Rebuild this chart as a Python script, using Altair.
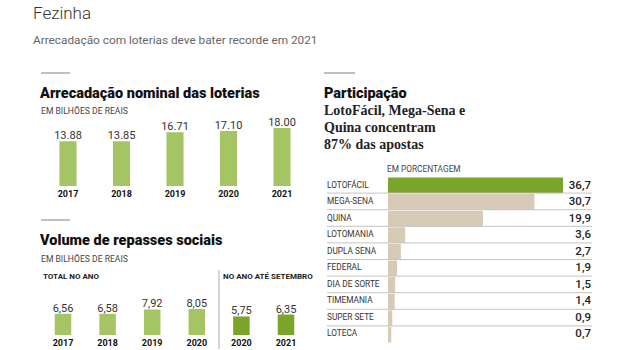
import altair as alt
import pandas as pd

# ---------------- data ----------------
arrec_anos = ["2017", "2018", "2019", "2020", "2021"]
arrec_valores = [13.88, 13.85, 16.71, 17.10, 18.00]

rep_anos = ["2017", "2018", "2019", "2020", "2020", "2021"]
rep_grupos = ["total", "total", "total", "total", "setembro", "setembro"]
rep_valores = [6.56, 6.58, 7.92, 8.05, 5.75, 6.35]

part_loterias = ["LOTOFÁCIL", "MEGA-SENA", "QUINA", "LOTOMANIA", "DUPLA SENA",
                 "FEDERAL", "DIA DE SORTE", "TIMEMANIA", "SUPER SETE", "LOTECA"]
part_valores = [36.7, 30.7, 19.9, 3.6, 2.7, 1.9, 1.5, 1.4, 0.9, 0.7]

# ---------------- styles ----------------
GREEN_LIGHT = "#a5c463"
GREEN_DARK = "#7ba52a"
BEIGE = "#d7cab6"
FONT = "Roboto"

arrec = pd.DataFrame({"ano": arrec_anos, "valor": arrec_valores})
arrec["rotulo"] = [f"{v:.2f}" for v in arrec_valores]

rep = pd.DataFrame({"ano": rep_anos, "grupo": rep_grupos, "valor": rep_valores})
rep["chave"] = rep["grupo"] + "-" + rep["ano"]
rep["rotulo"] = [f"{v:.2f}".replace(".", ",") for v in rep_valores]
rep_ordem = list(rep["chave"])

part = pd.DataFrame({"loteria": part_loterias, "valor": part_valores})
part["rotulo"] = [f"{v:.1f}".replace(".", ",") for v in part_valores]

one = pd.DataFrame({"k": [0]})


def txt(text, x, y, size, weight="normal", color="#222", font=FONT, align="left"):
    return alt.Chart(one).mark_text(
        text=text, align=align, baseline="alphabetic", fontSize=size,
        fontWeight=weight, color=color, font=font
    ).encode(x=alt.value(x), y=alt.value(y))


def hrule(x1, x2, y, color="#aaaaaa", w=1.5):
    return alt.Chart(one).mark_rule(color=color, strokeWidth=w).encode(
        x=alt.value(x1), x2=alt.value(x2), y=alt.value(y))


layers = []

# ---------- titles ----------
layers.append(txt("Fezinha", 33, 19, 17, weight=300, color="#333"))
layers.append(txt("Arrecadação com loterias deve bater recorde em 2021", 33, 44, 11.8, color="#666"))

# ---------- panel 1 ----------
layers.append(hrule(41, 70, 73))
layers.append(txt("Arrecadação nominal das loterias", 40, 98, 14.5, weight=900, color="#111"))
layers.append(txt("EM BILHÕES DE REAIS", 41, 113.5, 8.6, color="#444"))

x1 = alt.Scale(domain=arrec_anos, range=[41.25, 308.75], paddingInner=0.68, paddingOuter=0.34)
y1 = alt.Scale(domain=[0, 18], range=[186, 128], nice=False)
p1 = alt.Chart(arrec)
layers.append(p1.mark_bar(color=GREEN_LIGHT).encode(
    x=alt.X("ano:N", scale=x1, axis=None),
    y=alt.Y("valor:Q", scale=y1, axis=None)))
layers.append(p1.mark_text(baseline="alphabetic", dy=-2, fontSize=11, font=FONT, color="#333").encode(
    x=alt.X("ano:N", scale=x1, axis=None),
    y=alt.Y("valor:Q", scale=y1, axis=None),
    text="rotulo:N"))
layers.append(p1.mark_text(baseline="alphabetic", fontSize=9, fontWeight="bold", font=FONT, color="#111").encode(
    x=alt.X("ano:N", scale=x1, axis=None),
    y=alt.value(197),
    text="ano:N"))

# ---------- panel 2 ----------
layers.append(hrule(41, 70, 220))
layers.append(txt("Volume de repasses sociais", 40, 245, 14.5, weight=900, color="#111"))
layers.append(txt("EM BILHÕES DE REAIS", 41, 261.5, 8.6, color="#444"))
layers.append(txt("TOTAL NO ANO", 43, 279, 8, weight="bold", color="#222"))
layers.append(txt("NO ANO ATÉ SETEMBRO", 223, 279, 8, weight="bold", color="#222"))
layers.append(alt.Chart(one).mark_rule(color="#aaaaaa", strokeWidth=1).encode(
    x=alt.value(219), y=alt.value(270), y2=alt.value(349)))

x2 = alt.Scale(domain=rep_ordem, range=[40.7, 308.3], paddingInner=0.63, paddingOuter=0.315)
y2 = alt.Scale(domain=[0, 18], range=[335, 277], nice=False)
c2 = alt.Scale(domain=["total", "setembro"], range=[GREEN_LIGHT, GREEN_DARK])
p2 = alt.Chart(rep)
layers.append(p2.mark_bar().encode(
    x=alt.X("chave:N", scale=x2, axis=None),
    y=alt.Y("valor:Q", scale=y2, axis=None),
    color=alt.Color("grupo:N", scale=c2, legend=None)))
layers.append(p2.mark_text(baseline="alphabetic", dy=-2, fontSize=11, font=FONT, color="#333").encode(
    x=alt.X("chave:N", scale=x2, axis=None),
    y=alt.Y("valor:Q", scale=y2, axis=None),
    text="rotulo:N"))
layers.append(p2.mark_text(baseline="alphabetic", fontSize=9, fontWeight="bold", font=FONT, color="#111").encode(
    x=alt.X("chave:N", scale=x2, axis=None),
    y=alt.value(346),
    text="ano:N"))

# ---------- panel 3 ----------
layers.append(hrule(324, 355, 73))
layers.append(txt("Participação", 324, 98, 14.5, weight=900, color="#111"))
SERIF = "Liberation Serif"
layers.append(txt("LotoFácil, Mega-Sena e", 324, 115, 14, weight="bold", color="#222", font=SERIF))
layers.append(txt("Quina concentram", 324, 132, 14, weight="bold", color="#222", font=SERIF))
layers.append(txt("87% das apostas", 324, 149, 14, weight="bold", color="#222", font=SERIF))
layers.append(txt("EM PORCENTAGEM", 387, 172, 8.3, color="#444"))

y3 = alt.Scale(domain=part_loterias, range=[177.5, 342.5], paddingInner=0.06, paddingOuter=0.0)
x3 = alt.Scale(domain=[0, 40], range=[388, 388 + 4.77 * 40], nice=False)
p3 = alt.Chart(part)
layers.append(p3.mark_bar().encode(
    y=alt.Y("loteria:N", scale=y3, axis=None),
    x=alt.X("valor:Q", scale=x3, axis=None),
    color=alt.condition(alt.datum.loteria == "LOTOFÁCIL", alt.value(GREEN_DARK), alt.value(BEIGE))))
layers.append(alt.Chart(part.iloc[:-1]).mark_rule(color="#c4c4c4", strokeWidth=1).encode(
    y=alt.Y("loteria:N", scale=y3, axis=None, bandPosition=1),
    x=alt.value(327), x2=alt.value(592)))
layers.append(p3.mark_text(align="left", baseline="middle", fontSize=8.3, font=FONT, color="#333").encode(
    y=alt.Y("loteria:N", scale=y3, axis=None),
    x=alt.value(327),
    text="loteria:N"))
layers.append(p3.mark_text(align="right", baseline="middle", fontSize=11.5, fontWeight=500, font=FONT, color="#222").encode(
    y=alt.Y("loteria:N", scale=y3, axis=None),
    x=alt.value(591),
    text="rotulo:N"))

chart = alt.layer(*layers).resolve_scale(
    x="independent", y="independent", color="independent"
).properties(
    width=620, height=350, padding=0, autosize=alt.AutoSizeParams(type="none"),
    background="white"
).configure_view(stroke=None)

chart.save("out.html", embed_options={"renderer": "svg", "actions": False})
